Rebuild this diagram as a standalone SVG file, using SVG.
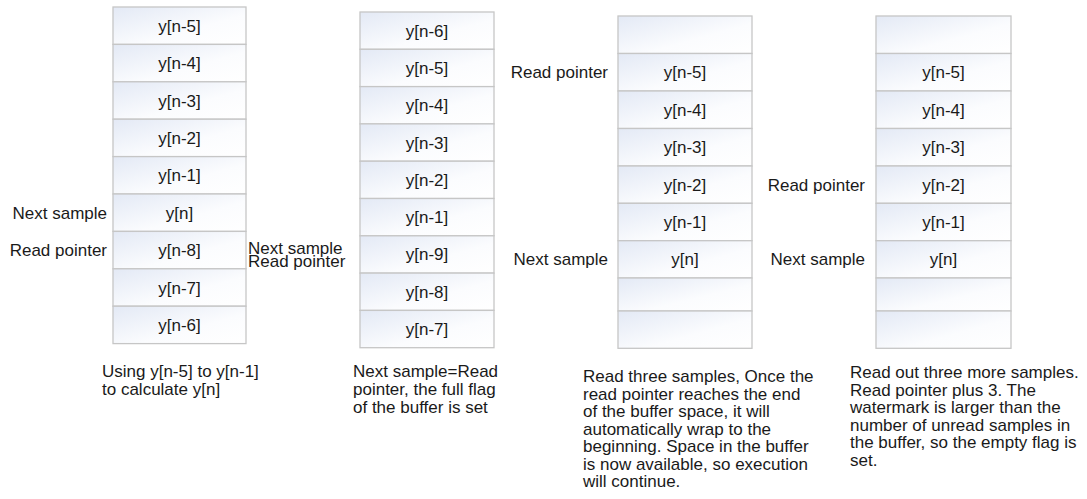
<svg xmlns="http://www.w3.org/2000/svg" width="1087" height="499" viewBox="0 0 1087 499">
<defs>
<linearGradient id="cellg" x1="0" y1="0" x2="1" y2="1">
<stop offset="0" stop-color="#e3e9f5"/>
<stop offset="0.6" stop-color="#fbfcfe"/>
<stop offset="1" stop-color="#ffffff"/>
</linearGradient>
</defs>
<style>
text{font-family:"Liberation Sans",Arial,sans-serif;font-size:17px;fill:#1a1a1a}
.c{text-anchor:middle}
.r{text-anchor:end}
.cell{fill:url(#cellg);stroke:#c6c6c6;stroke-width:1.3}
</style>
<rect width="1087" height="499" fill="#ffffff"/>
<g id="buffer1">
<rect class="cell" x="113" y="7" width="133" height="37.4"/>
<rect class="cell" x="113" y="44.4" width="133" height="37.4"/>
<rect class="cell" x="113" y="81.8" width="133" height="37.4"/>
<rect class="cell" x="113" y="119.2" width="133" height="37.4"/>
<rect class="cell" x="113" y="156.6" width="133" height="37.4"/>
<rect class="cell" x="113" y="194" width="133" height="37.4"/>
<rect class="cell" x="113" y="231.4" width="133" height="37.4"/>
<rect class="cell" x="113" y="268.8" width="133" height="37.4"/>
<rect class="cell" x="113" y="306.2" width="133" height="37.4"/>
<text class="c" x="179.5" y="31.7">y[n-5]</text>
<text class="c" x="179.5" y="69.1">y[n-4]</text>
<text class="c" x="179.5" y="106.5">y[n-3]</text>
<text class="c" x="179.5" y="143.9">y[n-2]</text>
<text class="c" x="179.5" y="181.3">y[n-1]</text>
<text class="c" x="179.5" y="218.7">y[n]</text>
<text class="c" x="179.5" y="256.1">y[n-8]</text>
<text class="c" x="179.5" y="293.5">y[n-7]</text>
<text class="c" x="179.5" y="330.9">y[n-6]</text>
</g>
<g id="labels1">
<text class="r" x="107" y="218.7">Next sample</text>
<text class="r" x="107" y="256.1">Read pointer</text>
<text x="102" y="377">Using y[n-5] to y[n-1]</text>
<text x="102" y="395">to calculate y[n]</text>
</g>
<g id="buffer2">
<rect class="cell" x="360" y="12" width="134" height="37.3"/>
<rect class="cell" x="360" y="49.3" width="134" height="37.3"/>
<rect class="cell" x="360" y="86.6" width="134" height="37.3"/>
<rect class="cell" x="360" y="123.9" width="134" height="37.3"/>
<rect class="cell" x="360" y="161.2" width="134" height="37.3"/>
<rect class="cell" x="360" y="198.5" width="134" height="37.3"/>
<rect class="cell" x="360" y="235.8" width="134" height="37.3"/>
<rect class="cell" x="360" y="273.1" width="134" height="37.3"/>
<rect class="cell" x="360" y="310.4" width="134" height="37.3"/>
<text class="c" x="427" y="36.6">y[n-6]</text>
<text class="c" x="427" y="73.9">y[n-5]</text>
<text class="c" x="427" y="111.2">y[n-4]</text>
<text class="c" x="427" y="148.5">y[n-3]</text>
<text class="c" x="427" y="185.8">y[n-2]</text>
<text class="c" x="427" y="223.1">y[n-1]</text>
<text class="c" x="427" y="260.4">y[n-9]</text>
<text class="c" x="427" y="297.7">y[n-8]</text>
<text class="c" x="427" y="335">y[n-7]</text>
</g>
<g id="labels2">
<text x="248" y="254">Next sample</text>
<text x="248" y="267">Read pointer</text>
<text x="353" y="377">Next sample=Read</text>
<text x="353" y="395">pointer, the full flag</text>
<text x="353" y="413">of the buffer is set</text>
</g>
<g id="buffer3">
<rect class="cell" x="618" y="16" width="134" height="37.5"/>
<rect class="cell" x="618" y="53.5" width="134" height="37.5"/>
<rect class="cell" x="618" y="91" width="134" height="37.5"/>
<rect class="cell" x="618" y="128.5" width="134" height="37.5"/>
<rect class="cell" x="618" y="166" width="134" height="37.3"/>
<rect class="cell" x="618" y="203.3" width="134" height="37.4"/>
<rect class="cell" x="618" y="240.7" width="134" height="37.3"/>
<rect class="cell" x="618" y="278" width="134" height="33"/>
<rect class="cell" x="618" y="311" width="134" height="37.3"/>
<text class="c" x="685" y="78.3">y[n-5]</text>
<text class="c" x="685" y="115.8">y[n-4]</text>
<text class="c" x="685" y="153.3">y[n-3]</text>
<text class="c" x="685" y="190.7">y[n-2]</text>
<text class="c" x="685" y="228">y[n-1]</text>
<text class="c" x="685" y="265.4">y[n]</text>
</g>
<g id="labels3">
<text class="r" x="608" y="78.3">Read pointer</text>
<text class="r" x="608" y="265.4">Next sample</text>
<text x="583" y="382">Read three samples, Once the</text>
<text x="583" y="399.5">read pointer reaches the end</text>
<text x="583" y="417">of the buffer space, it will</text>
<text x="583" y="434.5">automatically wrap to the</text>
<text x="583" y="452">beginning. Space in the buffer</text>
<text x="583" y="469.5">is now available, so execution</text>
<text x="583" y="487">will continue.</text>
</g>
<g id="buffer4">
<rect class="cell" x="876" y="16" width="135" height="37.5"/>
<rect class="cell" x="876" y="53.5" width="135" height="37.5"/>
<rect class="cell" x="876" y="91" width="135" height="37.5"/>
<rect class="cell" x="876" y="128.5" width="135" height="37.5"/>
<rect class="cell" x="876" y="166" width="135" height="37.3"/>
<rect class="cell" x="876" y="203.3" width="135" height="37.4"/>
<rect class="cell" x="876" y="240.7" width="135" height="37.3"/>
<rect class="cell" x="876" y="278" width="135" height="33"/>
<rect class="cell" x="876" y="311" width="135" height="37.3"/>
<text class="c" x="943.5" y="78.3">y[n-5]</text>
<text class="c" x="943.5" y="115.8">y[n-4]</text>
<text class="c" x="943.5" y="153.3">y[n-3]</text>
<text class="c" x="943.5" y="190.7">y[n-2]</text>
<text class="c" x="943.5" y="228">y[n-1]</text>
<text class="c" x="943.5" y="265.4">y[n]</text>
</g>
<g id="labels4">
<text class="r" x="865" y="190.7">Read pointer</text>
<text class="r" x="865" y="265.4">Next sample</text>
<text x="850" y="378">Read out three more samples.</text>
<text x="850" y="395.6">Read pointer plus 3. The</text>
<text x="850" y="413.2">watermark is larger than the</text>
<text x="850" y="430.8">number of unread samples in</text>
<text x="850" y="448.4">the buffer, so the empty flag is</text>
<text x="850" y="466">set.</text>
</g>
<g id="connectors"/>
</svg>
